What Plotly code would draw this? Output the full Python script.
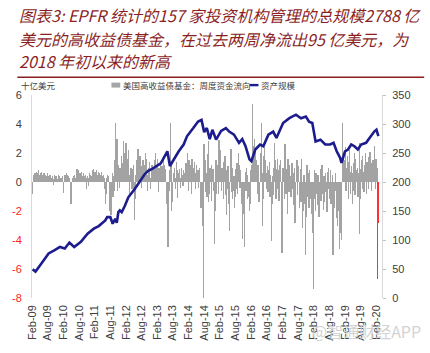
import pandas as pd
import plotly.graph_objects as go

# ---------------- data ----------------
flows_2009 = [-0.8, 0.3, 0.5, 0.2, 0.6, 0.4, 0.7, 0.5, 0.3, 0.6, 0.8, 0.4, 0.5, 0.2, 0.6, 0.7, 0.3, 0.5, 0.4, 0.6,
              0.3, 0.2, 0.5, 0.4, 0.3, 0.6, 0.2, 0.4, 0.3, 0.5, 0.2, 0.1, 0.3, 0.4, 0.2, -0.2, 0.3, 0.5, 0.2, 0.4,
              0.3, 0.1, 0.2, 0.5, 0.3, 0.4, 0.2, 0.3]
flows_2010 = [0.3, 0.2, 0.4, -0.3, -0.75, 0.3, 0.5, 0.4, 0.6, 0.3, 0.5, 0.2, 0.4, 0.3, 0.1, -0.6, -1.5, -0.4, 0.2, 0.3,
              0.1, 0.4, 0.5, 0.3, 0.2, 0.6, 0.9, 0.7, 0.8, 0.5, 0.4, 0.6, 0.3, 0.5, 0.7, 0.4, 0.3, 0.6, 0.2, 0.4,
              0.5, 0.3, -0.5, 0.2, 0.4, -0.3, 0.3, 0.6, 0.5, 0.3, 0.4, 0.2]
flows_2011 = [0.8, 0.6, 0.9, 0.5, 0.7, 0.4, 0.6, 0.8, 0.3, 0.5, 0.7, 0.4, 0.6, 0.3, 0.5, 0.7, 0.4, 0.2, 0.5, 0.3,
              0.1, -0.5, -1.5, -0.8, 0.3, 0.5, 0.2, 0.4, -0.3, -2.0, -1.2, -2.3, -0.8, 0.6, -1.0, 0.4, -0.6, 1.5, 4.1, 0.8,
              2.0, 3.0, -0.6, 1.2, 0.5, -0.4, 1.0, 0.4, 1.8, 0.6, 0.9, 1.3]
flows_2012 = [2.8, 1.5, 2.0, 1.2, 2.7, 1.0, 0.8, 1.6, 2.2, 0.5, -0.8, 0.6, 1.0, 0.4, -0.5, 0.9, 1.2, -0.6, -2.6, -1.2,
              0.5, 0.8, 1.5, 0.7, 2.3, 1.4, 0.9, 1.8, 0.6, 1.1, -0.4, 0.8, 1.5, 0.7, 1.2, 0.4, 2.0, 1.6, 0.8, 0.5,
              -0.6, 1.0, 0.9, 1.4, 0.3, -0.5, 0.7, 1.2, 0.6, 0.4, 0.9, 1.5]
flows_2013 = [1.5, 2.0, 1.2, 0.8, 1.6, 0.5, -0.7, 1.0, 0.6, 1.3, 0.4, 0.9, 1.1, 0.6, 1.8, 0.7, 1.2, 0.5, 0.9, -0.8,
              -1.5, -3.0, -4.5, -1.8, -0.6, 0.8, 4.1, 1.2, -2.0, -1.4, -0.9, 0.5, 0.6, 1.0, 0.3, -0.5, 1.4, 0.8, -1.1, 0.6,
              0.4, 0.9, 0.3, -0.4, 0.7, 1.0, 0.5, -0.3, 0.8, 0.6, 0.4, 1.3]
flows_2014 = [1.3, 0.8, 2.0, 1.0, -0.6, 1.5, 0.9, 1.2, 0.5, -0.8, 1.6, 0.7, 1.0, 0.4, 1.4, 0.6, -0.5, 0.9, 1.2, 0.3,
              0.8, -0.4, 0.6, 1.0, -1.2, -1.8, -0.9, -1.5, -3.0, -8.0, 2.6, 1.2, -0.7, 1.5, 0.6, -1.0, 1.9, -1.4, 2.8, -0.8,
              1.0, 0.5, -1.3, 1.2, 0.7, 0.9, -0.6, -1.6, -4.3, -2.0, 1.5, -0.8, 0.6]
flows_2015 = [1.2, -0.8, 2.9, 1.5, 0.7, 2.2, -0.6, 1.0, 0.5, 1.4, -1.2, 0.6, 1.8, -0.9, -2.3, 0.8, -0.5, 1.1, -1.5, -3.4,
              -0.8, 0.5, 2.3, -0.7, 1.0, -1.2, -0.6, 0.4, -1.8, -1.0, 0.9, -0.5, 1.3, -0.8, 0.6, 2.0, 1.2, -0.4, 0.8, -1.5,
              -0.9, -3.9, -2.2, -1.0, -4.5, -1.6, 0.7, -0.6, 1.0, -1.2, 0.5, -0.8]
flows_2016 = [-1.0, -2.0, 0.8, -1.5, 1.2, 0.6, 5.4, 2.5, 1.8, 3.0, 1.0, 2.2, 0.5, 1.5, -0.8, 1.2, 0.7, -1.4, -0.6, 1.0,
              2.0, 4.1, 0.6, -3.0, -1.2, 1.8, 2.4, 0.9, 1.5, 0.6, -0.5, 1.1, -0.7, 0.8, 1.4, -1.0, 0.5, -0.6, -4.1, -1.5,
              0.4, -0.9, 1.0, 2.7, 1.5, -1.2, 0.9, -0.5, 1.6, 0.8, -1.3, 1.2]
flows_2017 = [0.8, 1.5, -0.6, -4.9, -1.8, 1.0, 0.6, -1.2, 2.6, 1.4, -0.8, 0.9, -2.2, 1.6, 0.5, -0.7, 1.2, 0.4, -1.0, 0.8,
              1.3, -0.5, 0.6, -1.6, 1.0, -2.8, -1.2, 0.7, 1.5, -0.9, 0.4, 1.1, -1.8, -0.6, 0.9, -1.4, 1.6, -3.2, -0.8, -2.0,
              0.5, -1.5, -5.0, -2.4, -0.7, 1.2, -1.0, 0.6, -1.8, 0.8, -0.5, -1.2]
flows_2018 = [-1.5, -2.2, -1.0, -3.5, -7.4, 0.8, -1.2, -2.0, 0.6, -0.8, -1.6, 0.5, -1.1, -2.4, -0.6, 0.9, -1.3, -0.5, 1.2, -0.8,
              -1.9, 0.4, -1.4, -0.7, 0.6, -1.0, -2.1, 0.7, -0.5, 1.0, -1.2, -0.6, 0.8, -1.5, -0.9, 0.5, -5.0, -2.2, -1.0, -1.8,
              -0.6, 0.6, -2.5, -1.4, -3.0, -1.2, -2.0, -4.6, -3.5, -1.5, -4.0, -0.8]
flows_2019 = [4.1, 1.2, 2.0, 0.8, 1.5, 2.4, -0.6, 1.0, 1.8, 0.5, -1.2, 1.4, 2.2, 0.7, -0.8, 1.1, 0.6, -1.5, -0.6, 1.3,
              2.0, -0.9, 1.6, 0.8, 0.4, 1.0, -1.0, 0.6, 2.7, -3.6, -1.2, 0.9, 1.5, -0.5, 1.8, 0.7, -0.7, 1.2, 2.0, 0.5,
              -0.8, 1.4, 0.6, 1.7, -0.5, 1.0, 2.1, 0.4, 1.3, -0.6, 0.9, 1.5]
flows_2020 = [1.2, 2.5, 0.8, -0.5, 1.6, 0.6, 1.0, -6.7, -2.8]
flow_years = {2009: ('2009-02-04', flows_2009), 2010: ('2010-01-06', flows_2010), 2011: ('2011-01-05', flows_2011),
              2012: ('2012-01-04', flows_2012), 2013: ('2013-01-02', flows_2013), 2014: ('2014-01-01', flows_2014),
              2015: ('2015-01-07', flows_2015), 2016: ('2016-01-06', flows_2016), 2017: ('2017-01-04', flows_2017),
              2018: ('2018-01-03', flows_2018), 2019: ('2019-01-02', flows_2019), 2020: ('2020-01-01', flows_2020)}
n_recent_red = 2

aum_dates = ['2009-02-04', '2009-03-10', '2009-05-20', '2009-08-10', '2009-10-20', '2009-12-20', '2010-02-15',
             '2010-04-10', '2010-06-05', '2010-08-22', '2010-11-08', '2011-01-20', '2011-03-18', '2011-06-03',
             '2011-06-25', '2011-08-01', '2011-08-28', '2011-09-27', '2011-10-15', '2011-11-03', '2011-11-20',
             '2011-12-12', '2012-01-18', '2012-02-27', '2012-05-12', '2012-07-27', '2012-09-03', '2012-10-12',
             '2012-12-06', '2013-03-12', '2013-05-08', '2013-05-28', '2013-06-27', '2013-08-12', '2013-10-08',
             '2013-12-04', '2014-01-12', '2014-03-27', '2014-05-22', '2014-07-01', '2014-08-01', '2014-09-01',
             '2014-10-05', '2014-11-05', '2014-12-18', '2015-02-15', '2015-04-12', '2015-05-20', '2015-07-15',
             '2015-09-12', '2015-10-20', '2015-11-27', '2016-01-12', '2016-02-03', '2016-03-20', '2016-05-15',
             '2016-06-22', '2016-08-20', '2016-10-15', '2016-11-22', '2017-02-08', '2017-04-22', '2017-07-08',
             '2017-09-05', '2017-11-01', '2017-12-08', '2018-01-15', '2018-02-22', '2018-04-20', '2018-06-15',
             '2018-08-12', '2018-09-20', '2018-10-27', '2018-12-05', '2018-12-22', '2019-02-01', '2019-03-08',
             '2019-04-15', '2019-05-22', '2019-07-01', '2019-08-08', '2019-10-05', '2019-12-01', '2020-01-08',
             '2020-02-03', '2020-02-26']
aum_values = [49.5, 45.6, 59.8, 76.8, 82.5, 88, 85.4, 95.6, 88, 96.8, 111, 119.5, 124, 133.7, 139.5, 139.5, 128, 136.6,
              129.8, 148, 151, 148, 159, 173.6, 187.8, 205, 213, 219, 223, 232, 247.6, 253, 227.6, 239, 253, 264.6,
              278.8, 293, 304.4, 307, 286, 293, 274, 290, 273, 288, 293, 287, 281.7, 267.5, 274, 261.7, 239, 236,
              256, 264.6, 261.7, 281.7, 287, 276, 301.7, 310, 316, 310, 313, 304, 301.7, 270, 273, 264.6, 264.6,
              267.5, 253, 242, 233, 253, 256, 264.6, 261.7, 256, 264.6, 267.5, 279, 287, 290, 279]

x_tick_dates = ['2009-02-01', '2009-08-01', '2010-02-01', '2010-08-01', '2011-02-01', '2011-08-01', '2012-02-01',
                '2012-08-01', '2013-02-01', '2013-08-01', '2014-02-01', '2014-08-01', '2015-02-01', '2015-08-01',
                '2016-02-01', '2016-08-01', '2017-02-01', '2017-08-01', '2018-02-01', '2018-08-01', '2019-02-01',
                '2019-08-01', '2020-02-01']
x_tick_labels = ['Feb-09', 'Aug-09', 'Feb-10', 'Aug-10', 'Feb-11', 'Aug-11', 'Feb-12', 'Aug-12', 'Feb-13', 'Aug-13',
                 'Feb-14', 'Aug-14', 'Feb-15', 'Aug-15', 'Feb-16', 'Aug-16', 'Feb-17', 'Aug-17', 'Feb-18', 'Aug-18',
                 'Feb-19', 'Aug-19', 'Feb-20']
left_ticks = [-8, -6, -4, -2, 0, 2, 4, 6]
right_ticks = [0, 50, 100, 150, 200, 250, 300, 350]

title_lines = ['图表3: EPFR 统计的157 家投资机构管理的总规模2788 亿',
               '美元的高收益债基金，在过去两周净流出95 亿美元，为',
               '2018 年初以来的新高']
bar_name = '美国高收益债基金：周度资金流向'
line_name = '资产规模'
unit_label = '十亿美元'
watermark = '@智通财经APP'

# ---------------- build ----------------
flow_x, flow_y = [], []
for y, (start, vals) in flow_years.items():
    d = pd.date_range(start, periods=len(vals), freq='7D')
    flow_x += list(d)
    flow_y += vals
bar_colors = ['#a3a3a3'] * (len(flow_y) - n_recent_red) + ['#ff3030'] * n_recent_red

W, H = 430, 353
L, R, T, B = 25, 382, 95, 300


def px(x):
    return (x - L) / (R - L)


def py(y):
    return (B - y) / (B - T)


fig = go.Figure()
fig.add_trace(go.Bar(x=flow_x, y=flow_y, marker=dict(color=bar_colors, line=dict(width=0)),
                     width=7 * 86400000 * 0.5, name=bar_name, yaxis='y', showlegend=False))
fig.add_trace(go.Scatter(x=pd.to_datetime(aum_dates), y=aum_values, mode='lines', name=line_name,
                         line=dict(color='#1c1c8c', width=2.6), yaxis='y2', showlegend=False))

tick_font = dict(family='Arial, Liberation Sans, sans-serif', size=11, color='#404040')
left_text = [f'<span style="color:#ff2020">{v}</span>' if v < 0 else str(v) for v in left_ticks]

fig.update_layout(
    width=W, height=H,
    margin=dict(l=L, r=W - R, t=T, b=H - B),
    paper_bgcolor='white', plot_bgcolor='white',
    bargap=0,
    xaxis=dict(type='date', range=['2009-01-28', '2020-04-08'], tickvals=x_tick_dates, ticktext=x_tick_labels,
               tickangle=-90, tickfont=tick_font, showgrid=False, zeroline=False, showline=False,
               ticks='', ticklabelstandoff=4),
    yaxis=dict(range=[-8, 6], tickvals=left_ticks, ticktext=left_text, tickfont=tick_font, showgrid=False,
               zeroline=False, showline=True, linecolor='#d9d9d9', linewidth=1, ticks='', ticklabelstandoff=7),
    yaxis2=dict(range=[0, 350], tickvals=right_ticks, overlaying='y', side='right', tickfont=tick_font,
                showgrid=False, zeroline=False, showline=True, linecolor='#d9d9d9', linewidth=1,
                ticks='outside', ticklen=3, tickcolor='#bfbfbf', ticklabelstandoff=4),
)

title_color = '#8b1f1f'
title_y = [14, 38, 61]
for txt, yy in zip(title_lines, title_y):
    fig.add_annotation(x=px(10), y=py(yy), xref='paper', yref='paper', xanchor='left', yanchor='middle',
                       text=f'<i>{txt}</i>', showarrow=False,
                       font=dict(family='Noto Sans CJK SC', size=16, color=title_color))
fig.add_shape(type='line', xref='paper', yref='paper', x0=px(10), x1=px(425), y0=py(77), y1=py(77),
              line=dict(color=title_color, width=1.5))

leg_font = dict(family='Noto Sans CJK SC', size=8.5, color='#404040')
fig.add_annotation(x=px(12), y=py(85), xref='paper', yref='paper', xanchor='left', yanchor='middle',
                   text=unit_label, showarrow=False, font=leg_font)
fig.add_shape(type='rect', xref='paper', yref='paper', x0=px(106), x1=px(115), y0=py(87.5), y1=py(82.5),
              fillcolor='#a6a6a6', line=dict(width=0))
fig.add_annotation(x=px(116), y=py(85), xref='paper', yref='paper', xanchor='left', yanchor='middle',
                   text=bar_name, showarrow=False, font=leg_font)
fig.add_shape(type='line', xref='paper', yref='paper', x0=px(247), x1=px(256), y0=py(85), y1=py(85),
              line=dict(color='#1c1c8c', width=2.4))
fig.add_annotation(x=px(257), y=py(85), xref='paper', yref='paper', xanchor='left', yanchor='middle',
                   text=line_name, showarrow=False, font=leg_font)

fig.add_annotation(x=px(424), y=py(333), xref='paper', yref='paper', xanchor='right', yanchor='middle',
                   text=watermark, showarrow=False,
                   font=dict(family='Noto Sans CJK SC', size=16, color='#d3d3d3'))

fig.write_html('out.html')
